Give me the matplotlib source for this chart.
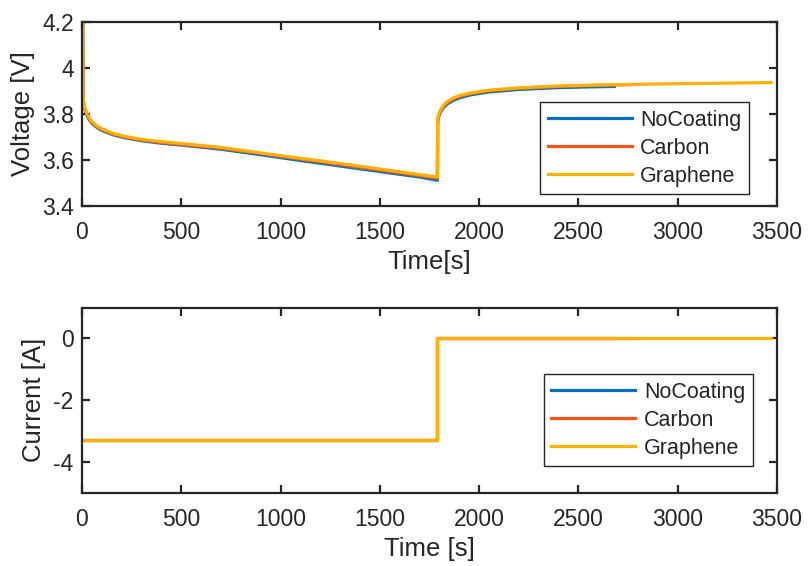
import matplotlib
matplotlib.use("Agg")
import matplotlib.pyplot as plt

# ---- data -------------------------------------------------------------
series_names = ["NoCoating", "Carbon", "Graphene"]
series_colors = ["#0072BD", "#F5541A", "#FFB000"]

# Voltage traces (time [s], voltage [V])
t_nocoating = [4, 5, 8, 12, 18, 25, 35, 50, 70, 95, 125, 160, 210, 300, 400, 500, 700,
               900, 1100, 1300, 1500, 1700, 1790, 1791, 1795, 1805, 1820, 1840, 1870,
               1910, 1960, 2050, 2200, 2400, 2550, 2680]
v_nocoating = [4.2, 3.87, 3.845, 3.828, 3.81, 3.795, 3.778, 3.76, 3.745, 3.731, 3.72,
               3.709, 3.698, 3.684, 3.673, 3.665, 3.647, 3.623, 3.598, 3.574, 3.550,
               3.526, 3.512, 3.765, 3.785, 3.808, 3.828, 3.844, 3.860, 3.873, 3.884,
               3.896, 3.907, 3.915, 3.918, 3.920]

t_carbon = [4, 5, 8, 12, 18, 25, 35, 50, 70, 95, 125, 160, 210, 300, 400, 500, 700,
            900, 1100, 1300, 1500, 1700, 1790, 1791, 1795, 1805, 1820, 1840, 1870,
            1910, 1960, 2050, 2200, 2400, 2600, 2765]
v_carbon = [4.2, 3.873, 3.848, 3.831, 3.813, 3.798, 3.781, 3.763, 3.748, 3.734, 3.723,
            3.712, 3.701, 3.687, 3.676, 3.668, 3.651, 3.628, 3.604, 3.580, 3.556,
            3.532, 3.520, 3.770, 3.790, 3.813, 3.833, 3.850, 3.866, 3.879, 3.889,
            3.901, 3.912, 3.920, 3.925, 3.928]

t_graphene = [4, 5, 8, 12, 18, 25, 35, 50, 70, 95, 125, 160, 210, 300, 400, 500, 700,
              900, 1100, 1300, 1500, 1700, 1790, 1791, 1795, 1805, 1820, 1840, 1870,
              1910, 1960, 2050, 2200, 2400, 2700, 3000, 3300, 3470]
v_graphene = [4.2, 3.877, 3.852, 3.835, 3.817, 3.802, 3.785, 3.767, 3.752, 3.738, 3.727,
              3.715, 3.704, 3.690, 3.680, 3.672, 3.655, 3.631, 3.608, 3.585, 3.561,
              3.537, 3.526, 3.775, 3.795, 3.818, 3.838, 3.854, 3.870, 3.883, 3.892,
              3.904, 3.914, 3.922, 3.928, 3.932, 3.935, 3.937]

# Current traces: constant-current discharge, then rest
switch_time = 1790
discharge_current = -3.3
end_times = [2680, 2765, 3470]

volt_t = [t_nocoating, t_carbon, t_graphene]
volt_v = [v_nocoating, v_carbon, v_graphene]

# ---- style ------------------------------------------------------------
plt.rcParams["font.family"] = ["Liberation Sans", "DejaVu Sans"]
plt.rcParams["axes.unicode_minus"] = False
text_color = "#262626"
plt.rcParams.update({
    "axes.edgecolor": text_color,
    "axes.labelcolor": text_color,
    "xtick.color": text_color,
    "ytick.color": text_color,
    "text.color": text_color,
})

fig = plt.figure(figsize=(8.11, 5.66), dpi=100)
ax_v = fig.add_axes([0.1011, 0.636, 0.857, 0.325])
ax_i = fig.add_axes([0.1011, 0.129, 0.857, 0.3277])


def style_axes(ax):
    for s in ax.spines.values():
        s.set_linewidth(1.6)
    ax.tick_params(direction="in", length=5.5, width=1.6, top=True, right=True,
                   labelsize=16.5)
    ax.tick_params(axis="x", pad=11)
    ax.tick_params(axis="y", pad=6)


lw = 2.3
for name, c, t, v in zip(series_names, series_colors, volt_t, volt_v):
    ax_v.plot(t, v, color=c, lw=lw, label=name, solid_joinstyle="round")

for name, c, tend in zip(series_names, series_colors, end_times):
    t = [0, switch_time, switch_time, tend]
    i = [discharge_current, discharge_current, 0, 0]
    ax_i.plot(t, i, color=c, lw=lw, label=name)

ax_v.set_xlim(0, 3500)
ax_v.set_ylim(3.4, 4.2)
ax_v.set_xticks(range(0, 3501, 500))
ax_v.set_yticks([3.4, 3.6, 3.8, 4.0, 4.2])
ax_v.set_yticklabels(["3.4", "3.6", "3.8", "4", "4.2"])
ax_v.set_xlabel("Time[s]", fontsize=18.5, labelpad=4)
ax_v.set_ylabel("Voltage [V]", fontsize=18.5, labelpad=5)

ax_i.set_xlim(0, 3500)
ax_i.set_ylim(-5, 1)
ax_i.set_xticks(range(0, 3501, 500))
ax_i.set_yticks([-4, -2, 0])
ax_i.set_xlabel("Time [s]", fontsize=18.5, labelpad=4)
ax_i.set_ylabel("Current [A]", fontsize=18.5, labelpad=5)

for ax in (ax_v, ax_i):
    style_axes(ax)

leg_kw = dict(fontsize=15.5, frameon=True, fancybox=False, handlelength=3.9,
              handletextpad=0.4, borderpad=0.35, labelspacing=0.32,
              borderaxespad=0.0, loc="lower right")
leg1 = ax_v.legend(bbox_to_anchor=(0.9597, 0.065), **leg_kw)
leg2 = ax_i.legend(bbox_to_anchor=(0.965, 0.145), **leg_kw)
for leg in (leg1, leg2):
    fr = leg.get_frame()
    fr.set_edgecolor(text_color)
    fr.set_linewidth(1.0)
    fr.set_alpha(1)

fig.savefig("out.png", dpi=100, facecolor="white")
